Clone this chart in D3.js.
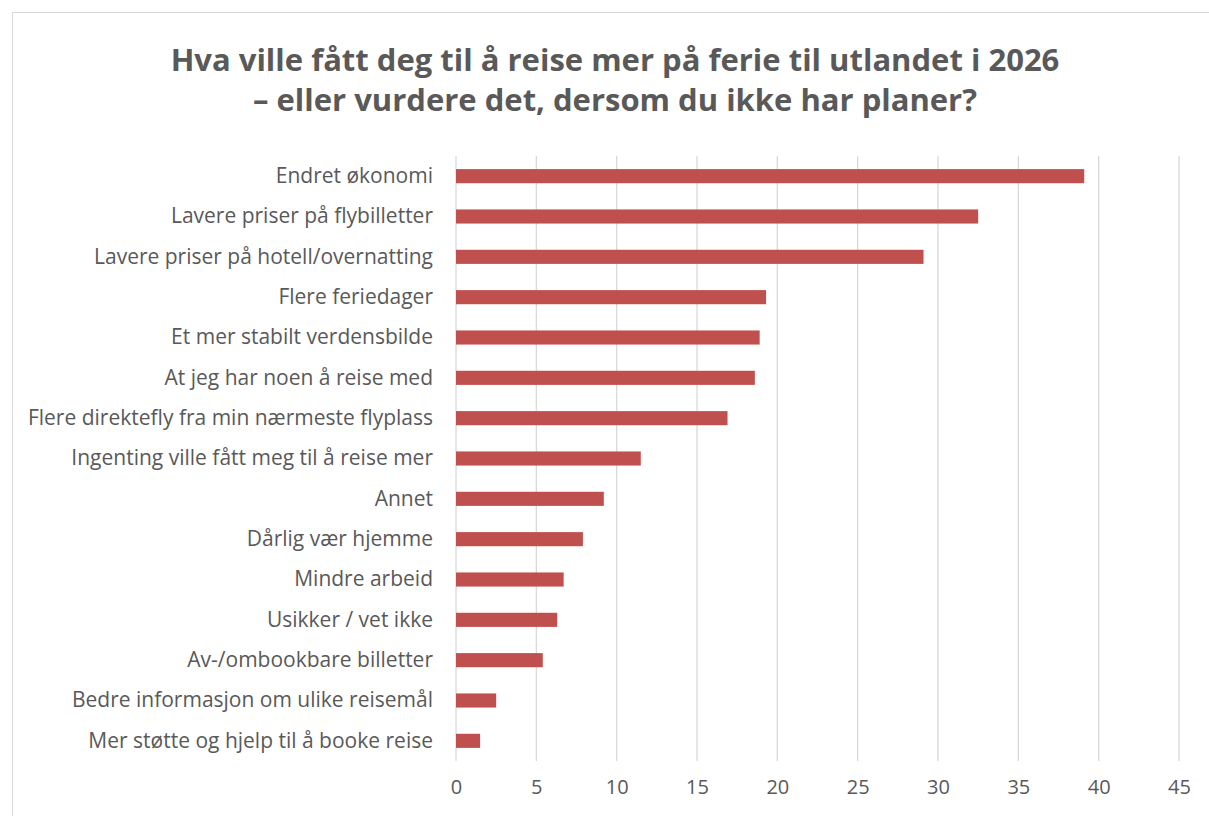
<!DOCTYPE html>
<html>
<head>
<meta charset="utf-8">
<script src="https://cdn.jsdelivr.net/npm/d3@7"></script>
<style>
  body { margin: 0; background: #fff; }
  svg { display: block; }
  text { font-family: "Open Sans", Lato, sans-serif; fill: #595959; }
</style>
</head>
<body>
<div id="chart"></div>
<script>
const categories = [
  "Endret økonomi",
  "Lavere priser på flybilletter",
  "Lavere priser på hotell/overnatting",
  "Flere feriedager",
  "Et mer stabilt verdensbilde",
  "At jeg har noen å reise med",
  "Flere direktefly fra min nærmeste flyplass",
  "Ingenting ville fått meg til å reise mer",
  "Annet",
  "Dårlig vær hjemme",
  "Mindre arbeid",
  "Usikker / vet ikke",
  "Av-/ombookbare billetter",
  "Bedre informasjon om ulike reisemål",
  "Mer støtte og hjelp til å booke reise"
];
const values = [39.1, 32.5, 29.1, 19.3, 18.9, 18.6, 16.9, 11.5, 9.2, 7.9, 6.7, 6.3, 5.4, 2.5, 1.5];
const ticks = [0, 5, 10, 15, 20, 25, 30, 35, 40, 45];
const titleLines = [
  "Hva ville fått deg til å reise mer på ferie til utlandet i 2026",
  "– eller vurdere det, dersom du ikke har planer?"
];

const width = 1209, height = 816;
const margin = { top: 156, left: 456, right: 30, bottom: 55 };

const svg = d3.select("#chart").append("svg")
  .attr("width", width)
  .attr("height", height);

// chart frame
svg.append("rect")
  .attr("x", 12.5).attr("y", 12.5)
  .attr("width", width).attr("height", height)
  .attr("fill", "#fff")
  .attr("stroke", "#d9d9d9");

const x = d3.scaleLinear().domain([0, 45]).range([margin.left, 1179]);
const y = d3.scaleBand().domain(categories)
  .range([margin.top, 761])
  .paddingInner(0.65).paddingOuter(0.325);

// title
svg.append("g").selectAll("text")
  .data(titleLines)
  .enter().append("text")
  .attr("x", 615)
  .attr("y", (d, i) => 71 + i * 40)
  .attr("text-anchor", "middle")
  .attr("font-size", 31)
  .attr("font-weight", "bold")
  .text(d => d);

// gridlines
svg.append("g").selectAll("line")
  .data(ticks)
  .enter().append("line")
  .attr("x1", d => x(d)).attr("x2", d => x(d))
  .attr("y1", margin.top).attr("y2", 761)
  .attr("stroke", "#d9d9d9")
  .attr("stroke-width", 1.3);

// bars
svg.append("g").selectAll("rect")
  .data(values)
  .enter().append("rect")
  .attr("x", x(0))
  .attr("y", (d, i) => y(categories[i]))
  .attr("width", d => x(d) - x(0))
  .attr("height", y.bandwidth())
  .attr("fill", "#c0504d");

// x axis labels
const xAxis = svg.append("g")
  .attr("transform", "translate(0,775)")
  .call(d3.axisBottom(x).tickValues(ticks).tickSize(0).tickPadding(5));
xAxis.select(".domain").remove();
xAxis.selectAll("text")
  .attr("font-size", 20)
  .attr("font-family", null)
  .attr("fill", "#595959");

// category labels
const yAxis = svg.append("g")
  .attr("transform", "translate(433,0)")
  .call(d3.axisLeft(y).tickSize(0).tickPadding(0));
yAxis.select(".domain").remove();
yAxis.selectAll("text")
  .attr("font-size", 21)
  .attr("font-family", null)
  .attr("fill", "#595959");
</script>
</body>
</html>
